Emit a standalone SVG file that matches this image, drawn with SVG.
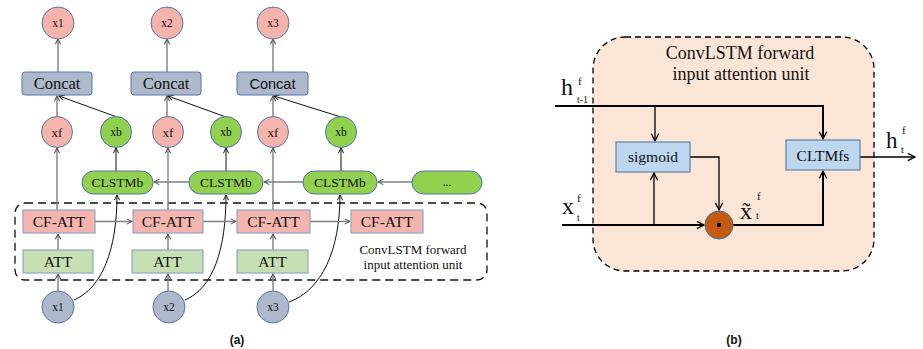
<svg xmlns="http://www.w3.org/2000/svg" width="923" height="349" viewBox="0 0 923 349">
<style>
.serif{font-family:"Liberation Serif","Times New Roman",serif;fill:#111}
.sans{font-family:"Liberation Sans",Arial,sans-serif;fill:#111}
.pink{fill:#F4B4AC;stroke:#5676A8;stroke-width:1}
.green{fill:#92D050;stroke:#4F74A8;stroke-width:1}
.grey{fill:#ADB9CA;stroke:#5676A8;stroke-width:1}
.cf{fill:#F4B5AE;stroke:#8EA6C6;stroke-width:1.2}
.att{fill:#C6E0B4;stroke:#8EA6C6;stroke-width:1.2}
.blue{fill:#BDD7EE;stroke:#41719C;stroke-width:1}
.g{stroke:#7F7F7F;stroke-width:1.4;fill:none}
.k{stroke:#111;stroke-width:1;fill:none}
.kb{stroke:#000;stroke-width:1.3;fill:none}
.kt{stroke:#000;stroke-width:2;fill:none}
.t11{font-size:11.5px}
.t13{font-size:13px}
.t15{font-size:15.5px}
.t16{font-size:16.5px}
</style>
<defs>
<marker id="ag" viewBox="0 0 8 8" refX="7" refY="4" markerWidth="7" markerHeight="7" orient="auto" markerUnits="userSpaceOnUse"><path d="M1,1 L7,4 L1,7" fill="none" stroke="#555" stroke-width="1.2"/></marker>
<marker id="ak" viewBox="0 0 8 8" refX="7" refY="4" markerWidth="7" markerHeight="7" orient="auto" markerUnits="userSpaceOnUse"><path d="M1,1 L7,4 L1,7" fill="none" stroke="#111" stroke-width="1.1"/></marker>
<marker id="ab" viewBox="0 0 10 10" refX="9" refY="5" markerWidth="9" markerHeight="9" orient="auto" markerUnits="userSpaceOnUse"><path d="M1,1 L9,5 L1,9" fill="none" stroke="#000" stroke-width="1.4"/></marker>
</defs>

<!-- Part (a) -->
<g id="unit-a">
<rect x="15" y="203" width="472" height="77" rx="10" fill="none" stroke="#111" stroke-width="1.3" stroke-dasharray="8,5"/>
<text class="serif t13" x="413" y="254" text-anchor="middle">ConvLSTM forward</text>
<text class="serif t13" x="413" y="269" text-anchor="middle">input attention unit</text>
</g>
<g id="connectors-a">
<!-- column 1 -->
<line class="g" x1="58" y1="291" x2="58" y2="274" marker-end="url(#ag)"/>
<line class="g" x1="58" y1="250" x2="58" y2="234" marker-end="url(#ag)"/>
<line class="g" x1="57" y1="210" x2="57" y2="148" marker-end="url(#ag)"/>
<line class="g" x1="57" y1="116" x2="57" y2="96" marker-end="url(#ag)"/>
<line class="g" x1="58" y1="72" x2="58" y2="39" marker-end="url(#ag)"/>
<line class="k" x1="117" y1="117" x2="59" y2="96" marker-end="url(#ak)"/>
<line class="k" x1="116" y1="171" x2="116" y2="148" marker-end="url(#ak)"/>
<path class="k" d="M74,300 C102,288 117,250 117,195" marker-end="url(#ak)"/>
<!-- column 2 -->
<line class="g" x1="168" y1="291" x2="168" y2="274" marker-end="url(#ag)"/>
<line class="g" x1="168" y1="250" x2="168" y2="234" marker-end="url(#ag)"/>
<line class="g" x1="168" y1="210" x2="168" y2="148" marker-end="url(#ag)"/>
<line class="g" x1="167" y1="116" x2="167" y2="96" marker-end="url(#ag)"/>
<line class="g" x1="167" y1="72" x2="167" y2="39" marker-end="url(#ag)"/>
<line class="k" x1="226" y1="117" x2="168" y2="96" marker-end="url(#ak)"/>
<line class="k" x1="226" y1="171" x2="226" y2="148" marker-end="url(#ak)"/>
<path class="k" d="M185,300 C213,288 226,250 226,195" marker-end="url(#ak)"/>
<!-- column 3 -->
<line class="g" x1="273" y1="291" x2="273" y2="274" marker-end="url(#ag)"/>
<line class="g" x1="273" y1="250" x2="273" y2="234" marker-end="url(#ag)"/>
<line class="g" x1="273" y1="210" x2="273" y2="148" marker-end="url(#ag)"/>
<line class="g" x1="273" y1="116" x2="273" y2="96" marker-end="url(#ag)"/>
<line class="g" x1="273" y1="72" x2="273" y2="39" marker-end="url(#ag)"/>
<line class="k" x1="341" y1="117" x2="274" y2="96" marker-end="url(#ak)"/>
<line class="k" x1="341" y1="171" x2="341" y2="148" marker-end="url(#ak)"/>
<path class="k" d="M289,302 C322,290 340,250 340,195" marker-end="url(#ak)"/>
<!-- horizontals -->
<line class="g" x1="412" y1="182" x2="378" y2="182" marker-end="url(#ag)"/>
<line class="g" x1="303" y1="182" x2="264" y2="182" marker-end="url(#ag)"/>
<line class="g" x1="189" y1="182" x2="154" y2="182" marker-end="url(#ag)"/>
<line class="g" x1="95" y1="221.5" x2="132" y2="221.5" marker-end="url(#ag)"/>
<line class="g" x1="203" y1="221.5" x2="236" y2="221.5" marker-end="url(#ag)"/>
<line class="g" x1="310" y1="221.5" x2="350" y2="221.5" marker-end="url(#ag)"/>
</g>

<g id="out1"><circle class="pink" cx="58" cy="23" r="16"/><text class="serif t11" x="58" y="27" text-anchor="middle">x1</text></g>
<g id="out2"><circle class="pink" cx="167" cy="23" r="16"/><text class="serif t11" x="167" y="27" text-anchor="middle">x2</text></g>
<g id="out3"><circle class="pink" cx="273" cy="23" r="16"/><text class="serif t11" x="273" y="27" text-anchor="middle">x3</text></g>

<g id="concat1"><rect class="grey" x="22" y="72" width="70" height="23" rx="3"/><text class="serif t16" x="57" y="89" text-anchor="middle">Concat</text></g>
<g id="concat2"><rect class="grey" x="131" y="72" width="70" height="23" rx="3"/><text class="serif t16" x="166" y="89" text-anchor="middle">Concat</text></g>
<g id="concat3"><rect class="grey" x="237" y="72" width="71" height="23" rx="3"/><text class="sans" font-size="14.5" x="272.5" y="89" text-anchor="middle">Concat</text></g>

<g id="xf1"><circle class="pink" cx="57" cy="132" r="15.5"/><text class="serif t13" x="57" y="136.5" text-anchor="middle">xf</text></g>
<g id="xb1"><circle class="green" cx="116" cy="132" r="15.5"/><text class="serif t11" x="116" y="136" text-anchor="middle">xb</text></g>
<g id="xf2"><circle class="pink" cx="168" cy="132" r="15.5"/><text class="serif t13" x="168" y="136.5" text-anchor="middle">xf</text></g>
<g id="xb2"><circle class="green" cx="226" cy="132" r="15.5"/><text class="serif t11" x="226" y="136" text-anchor="middle">xb</text></g>
<g id="xf3"><circle class="pink" cx="273" cy="132" r="15.5"/><text class="serif t13" x="273" y="136.5" text-anchor="middle">xf</text></g>
<g id="xb3"><circle class="green" cx="341" cy="132" r="15.5"/><text class="serif t11" x="341" y="136" text-anchor="middle">xb</text></g>

<g id="clstmb1"><rect class="green" x="82" y="171" width="71" height="23" rx="11.5"/><text class="serif" font-size="13.5" x="117.5" y="187" text-anchor="middle">CLSTMb</text></g>
<g id="clstmb2"><rect class="green" x="189" y="171" width="74" height="23" rx="11.5"/><text class="serif" font-size="13.5" x="226" y="187" text-anchor="middle">CLSTMb</text></g>
<g id="clstmb3"><rect class="green" x="303" y="171" width="74" height="23" rx="11.5"/><text class="serif" font-size="13.5" x="340" y="187" text-anchor="middle">CLSTMb</text></g>
<g id="clstmb4"><rect class="green" x="412" y="171" width="70" height="23" rx="11.5"/><text class="serif t11" x="447" y="186" text-anchor="middle">...</text></g>

<g id="cfatt1"><rect class="cf" x="23" y="210" width="72" height="23"/><text class="serif t15" x="59" y="227" text-anchor="middle">CF-ATT</text></g>
<g id="cfatt2"><rect class="cf" x="133" y="210" width="70" height="23"/><text class="serif t15" x="168" y="227" text-anchor="middle">CF-ATT</text></g>
<g id="cfatt3"><rect class="cf" x="237" y="210" width="73" height="23"/><text class="serif t15" x="273.5" y="227" text-anchor="middle">CF-ATT</text></g>
<g id="cfatt4"><rect class="cf" x="351" y="210" width="72" height="23"/><text class="serif t15" x="387" y="227" text-anchor="middle">CF-ATT</text></g>

<g id="att1"><rect class="att" x="23" y="250" width="70" height="23"/><text class="serif t15" x="58" y="267" text-anchor="middle">ATT</text></g>
<g id="att2"><rect class="att" x="132" y="250" width="71" height="23"/><text class="serif t15" x="167.5" y="267" text-anchor="middle">ATT</text></g>
<g id="att3"><rect class="att" x="237" y="250" width="71" height="23"/><text class="serif t15" x="272.5" y="267" text-anchor="middle">ATT</text></g>

<g id="in1"><circle class="grey" cx="58" cy="307" r="16"/><text class="serif t11" x="58" y="311" text-anchor="middle">x1</text></g>
<g id="in2"><circle class="grey" cx="169" cy="307" r="16"/><text class="serif t11" x="169" y="311" text-anchor="middle">x2</text></g>
<g id="in3"><circle class="grey" cx="273" cy="307" r="16"/><text class="serif t11" x="273" y="311" text-anchor="middle">x3</text></g>

<text class="sans" font-size="12" font-weight="bold" x="237" y="344" text-anchor="middle">(a)</text>

<!-- Part (b) -->
<g id="unit-b">
<rect x="593" y="37" width="281" height="234" rx="32" fill="#FBE5D6" stroke="#000" stroke-width="1.3" stroke-dasharray="6,4"/>
<text class="serif" font-size="18" x="740" y="59" text-anchor="middle">ConvLSTM forward</text>
<text class="serif" font-size="18" x="741" y="80" text-anchor="middle">input attention unit</text>
</g>
<g id="connectors-b">
<polyline class="kt" points="555,106 823,106 823,139" marker-end="url(#ab)"/>
<line class="kb" x1="655" y1="106" x2="655" y2="141" marker-end="url(#ab)"/>
<polyline class="kb" points="690,157 719,157 719,210" marker-end="url(#ab)"/>
<line class="kt" x1="562" y1="225" x2="704" y2="225" marker-end="url(#ab)"/>
<line class="kb" x1="654" y1="225" x2="654" y2="173" marker-end="url(#ab)"/>
<polyline class="kt" points="733,225 823,225 823,171" marker-end="url(#ab)"/>
<line class="kb" x1="860" y1="157" x2="915" y2="157" marker-end="url(#ab)"/>
</g>
<g id="sigmoid"><rect class="blue" x="616" y="142" width="74" height="30"/><text class="serif t15" x="653" y="162" text-anchor="middle">sigmoid</text></g>
<g id="cltmfs"><rect class="blue" x="786" y="140" width="74" height="30"/><text class="serif t15" x="823" y="160.5" text-anchor="middle">CLTMfs</text></g>
<g id="mult"><circle cx="719" cy="225" r="14" fill="#C55A11" stroke="#41719C" stroke-width="1"/><circle cx="719" cy="225" r="2.2" fill="#000"/></g>

<g id="label-h-prev">
<text class="serif" font-size="24" x="561" y="95">h</text>
<text class="serif" font-size="11" x="578" y="85">f</text>
<text class="serif" font-size="10" x="577" y="103">t-1</text>
</g>
<g id="label-x">
<text class="serif" font-size="24" x="562" y="214">x</text>
<text class="serif" font-size="11" x="577" y="202">f</text>
<text class="serif" font-size="10" x="577" y="221">t</text>
</g>
<g id="label-xt">
<text class="serif" font-size="24" x="740" y="219">x&#x303;</text>
<text class="serif" font-size="11" x="757" y="200">f</text>
<text class="serif" font-size="10" x="756" y="219">t</text>
</g>
<g id="label-h">
<text class="serif" font-size="23" x="886" y="148">h</text>
<text class="serif" font-size="11" x="902" y="134">f</text>
<text class="serif" font-size="10" x="901" y="153">t</text>
</g>
<text class="sans" font-size="12" font-weight="bold" x="734" y="344" text-anchor="middle">(b)</text>
</svg>
